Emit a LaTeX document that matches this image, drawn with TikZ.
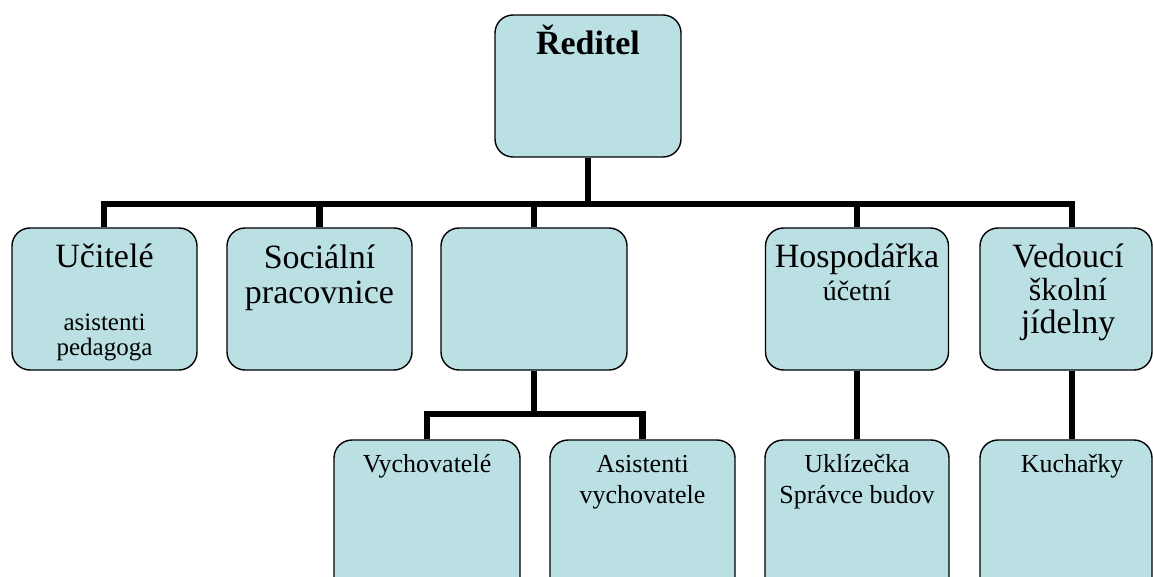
\documentclass[tikz,border=0pt]{standalone}
\usepackage{fontspec}
\setmainfont{Liberation Serif}
\definecolor{boxfill}{RGB}{187,224,227}
\tikzset{
  orgbox/.style={draw=black, line width=1.4pt, fill=boxfill, rounded corners=18pt, inner sep=0pt},
  link/.style={line width=6.5pt, line cap=butt, line join=miter},
  big/.style={font=\fontsize{34}{35}\selectfont, anchor=base, align=center, inner sep=0pt},
  small/.style={font=\fontsize{26}{31}\selectfont, anchor=base, align=center, inner sep=0pt},
}
\begin{document}
\begin{tikzpicture}[x=1pt,y=-1pt]
\useasboundingbox (0,0) rectangle (1153,577);
\clip (0,0) rectangle (1153,577);
% boxes
\node[orgbox, minimum width=186pt, minimum height=142pt] (reditel) at (588,86) {};
\node[orgbox, minimum width=185pt, minimum height=142pt] (ucitele) at (104.5,299) {};
\node[orgbox, minimum width=185pt, minimum height=142pt] (socialni) at (319.5,299) {};
\node[orgbox, minimum width=186pt, minimum height=142pt] (stred) at (534,299) {};
\node[orgbox, minimum width=183pt, minimum height=142pt] (hosp) at (857,299) {};
\node[orgbox, minimum width=172pt, minimum height=142pt] (vedouci) at (1066,299) {};
\node[orgbox, minimum width=186pt, minimum height=180pt] (vychov) at (427,530) {};
\node[orgbox, minimum width=185pt, minimum height=180pt] (asist) at (642.5,530) {};
\node[orgbox, minimum width=184pt, minimum height=180pt] (uklid) at (857,530) {};
\node[orgbox, minimum width=172pt, minimum height=180pt] (kuch) at (1066,530) {};
% connectors
\coordinate (bar) at (588,204);
\coordinate (barL) at (104,204);
\coordinate (barR) at (1072,204);
\draw[link] (reditel.south) -- (bar);
\draw[link] (barL |- ucitele.north) -- (barL) -- (barR) -- (barR |- vedouci.north);
\draw[link] (socialni.north) -- (socialni.north |- bar);
\draw[link] (stred.north) -- (stred.north |- bar);
\draw[link] (hosp.north) -- (hosp.north |- bar);
\coordinate (sub) at (534,414);
\draw[link] (stred.south) -- (sub);
\draw[link] (vychov.north) -- (vychov.north |- sub) -- (asist.north |- sub) -- (asist.north);
\draw[link] (hosp.south) -- (uklid.north);
\draw[link] (barR |- vedouci.south) -- (barR |- kuch.north);
% texts
\node[big, font=\bfseries\fontsize{34}{35}\selectfont] (treditel) at (588,55) {Ředitel};
\node[big] (tucitele) at (104.5,267) {Učitelé};
\node[font=\fontsize{25}{25}\selectfont, anchor=base, align=center, inner sep=0pt] (tasist) at (104.5,355) {asistenti\\pedagoga};
\node[big] (tsocialni) at (319.5,303) {Sociální\\pracovnice};
\node[big] (thosp) at (857,267) {Hospodářka};
\node[font=\fontsize{28}{28}\selectfont, anchor=base, inner sep=0pt] (tucetni) at (857,300) {účetní};
\node[big] (tvedouci) at (1068,267) {Vedoucí};
\node[font=\fontsize{32}{32}\selectfont, anchor=base, inner sep=0pt] (tskolni) at (1068,300) {školní};
\node[big] (tjidelny) at (1068,333) {jídelny};
\node[small] (tvychov) at (427,472) {Vychovatelé};
\node[small] (tasistv) at (642.5,503) {Asistenti\\vychovatele};
\node[small] (tuklid) at (857,503) {Uklízečka\\Správce budov};
\node[small] (tkuch) at (1072,472) {Kuchařky};
\end{tikzpicture}
\end{document}
